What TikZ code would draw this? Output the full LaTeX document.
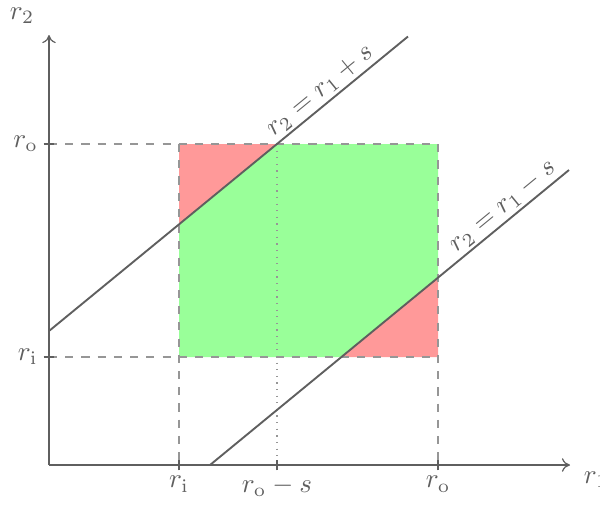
\documentclass[tikz,border=0pt]{standalone}
\usetikzlibrary{arrows.meta}
\definecolor{ink}{RGB}{95,95,95}
\definecolor{guide}{RGB}{150,150,150}
\definecolor{redfill}{RGB}{255,153,153}
\definecolor{greenfill}{RGB}{153,255,153}
\begin{document}
\begin{tikzpicture}[x=0.37pt,y=-0.37pt,
  axis/.style={draw=ink,line width=0.45pt,-{To[length=3pt,width=5pt]}},
  guideline/.style={draw=guide,dashed,line width=0.45pt},
  dotline/.style={draw=guide,dotted,line width=0.45pt},
  boundary/.style={draw=ink,line width=0.7pt},
  lab/.style={text=ink,inner sep=1pt},
  tick/.style={draw=ink,line width=0.45pt}]
\useasboundingbox (0,0) rectangle (600,506);
% key coordinates
\coordinate (O) at (49,465);
\coordinate (xend) at (570,465);
\coordinate (yend) at (49,35);
\coordinate (A) at (179,144);  % (ri, ro)
\coordinate (B) at (438,144);  % (ro, ro)
\coordinate (C) at (438,357);  % (ro, ri)
\coordinate (D) at (179,357);  % (ri, ri)
\coordinate (P1) at (277,144);   % line1 meets r2=ro
\coordinate (P2) at (179,224.4); % line1 meets r1=ri
\coordinate (Q1) at (341.4,357); % line2 meets r2=ri
\coordinate (Q2) at (438,277.6); % line2 meets r1=ro
\coordinate (L1a) at (49,331);
\coordinate (L1b) at (408,36.5);
\coordinate (L2a) at (210,465);
\coordinate (L2b) at (569,170);
\coordinate (xri) at (179,465);
\coordinate (xros) at (277,465);
\coordinate (xro) at (438,465);
\coordinate (yro) at (49,144);
\coordinate (yri) at (49,357);
% fills
\fill[greenfill] (P1) -- (B) -- (Q2) -- (Q1) -- (D) -- (P2) -- cycle;
\fill[redfill] (A) -- (P1) -- (P2) -- cycle;
\fill[redfill] (Q1) -- (C) -- (Q2) -- cycle;
% guides
\draw[guideline] (yro) -- (B) -- (xro);
\draw[guideline] (yri) -- (C);
\draw[guideline] (A) -- (xri);
\draw[dotline] (P1) -- (xros);
% axes
\draw[axis] (O) -- (xend);
\draw[axis] (O) -- (yend);
% ticks
\foreach \c in {xri,xros,xro} \draw[tick] ([yshift=-2pt]\c) -- ([yshift=2pt]\c);
\foreach \c in {yro,yri} \draw[tick] ([xshift=-2pt]\c) -- ([xshift=2pt]\c);
% boundary lines
\draw[boundary] (L1a) -- (L1b) node[lab,pos=0.78,sloped,above] (lab1) {$r_2 = r_1 + s$};
\draw[boundary] (L2a) -- (L2b) node[lab,pos=0.84,sloped,above] (lab2) {$r_2 = r_1 - s$};
% labels
\node[lab,below=3pt] (tri) at (xri) {$r_{\mathrm{i}}$};
\node[lab,below=3pt] (tros) at (xros) {$r_{\mathrm{o}} - s$};
\node[lab,below=3pt] (tro) at (xro) {$r_{\mathrm{o}}$};
\node[lab,left=3pt] (tyro) at (yro) {$r_{\mathrm{o}}$};
\node[lab,left=3pt] (tyri) at (yri) {$r_{\mathrm{i}}$};
\node[lab] (r2lab) at (22,16) {$r_2$};
\node[lab] (r1lab) at (596,480) {$r_1$};
\end{tikzpicture}
\end{document}
